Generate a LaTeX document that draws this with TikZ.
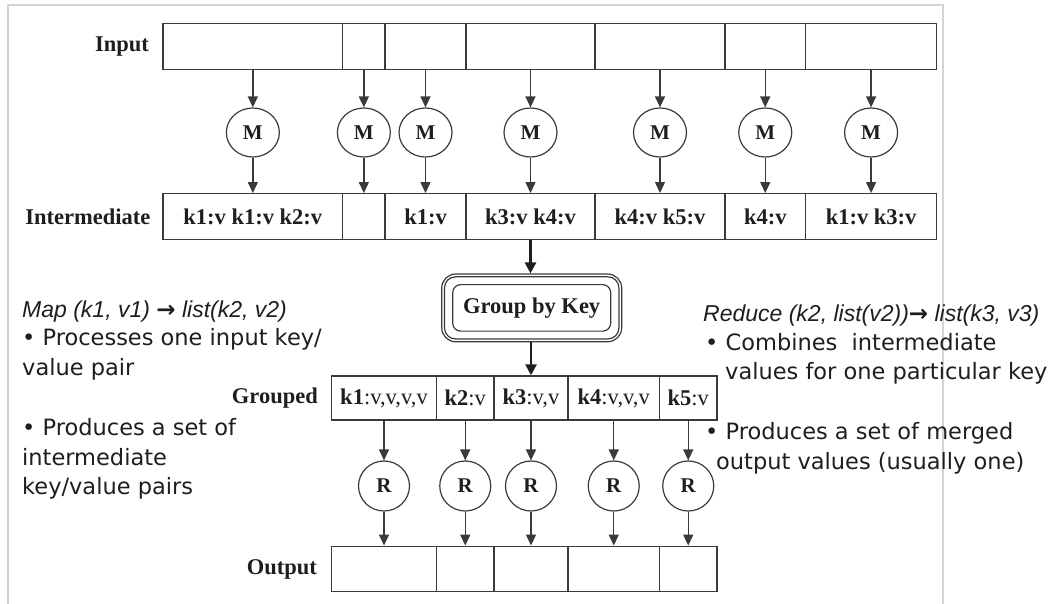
\documentclass[tikz,border=0pt]{standalone}
\usepackage{fontspec}
\setmainfont{Liberation Serif}
\newfontfamily\notefont{DejaVu Sans}
\newfontfamily\headfont{Liberation Sans}
\usetikzlibrary{arrows.meta,shapes.geometric}

\definecolor{framegray}{HTML}{D4D4D4}
\definecolor{boxline}{HTML}{3A3A3A}
\definecolor{ink}{HTML}{1E1E1E}

\newcommand{\cellfont}{\fontsize{22.5}{27}\selectfont\bfseries}
\newcommand{\keyfont}{\fontsize{22.5}{27}\selectfont}
\newcommand{\opfont}{\fontsize{21}{25}\selectfont\bfseries}
\newcommand{\notesize}{\notefont\fontsize{22.5}{27}\selectfont}
\newcommand{\headsize}{\headfont\fontsize{23}{27}\selectfont\itshape}
\newcommand{\maparrow}{{\notefont\bfseries\upshape →}}

\begin{document}
\begin{tikzpicture}[x=1pt,y=-1pt,
  cell/.style={draw=boxline, line width=1.4, minimum height=45.5, inner sep=0,
               font=\cellfont, text=ink},
  gcell/.style={draw=boxline, line width=1.4, minimum height=44, inner sep=0,
               font=\keyfont, text=ink},
  rowlabel/.style={anchor=east, inner sep=0, font=\cellfont, text=ink},
  worker/.style={ellipse, draw=boxline, line width=1.2, minimum width=53,
                 minimum height=49, inner sep=0, font=\opfont, text=ink},
  flow/.style={draw=boxline, line width=1.3,
               -{Triangle[width=10pt,length=11pt]}},
  bigflow/.style={draw=ink, line width=2.6,
               -{Triangle[width=11pt,length=11pt]}},
  note/.style={anchor=base west, inner sep=0, font=\notesize, text=ink},
  notehead/.style={anchor=base west, inner sep=0, font=\headsize, text=ink},
]
\useasboundingbox (0,0) rectangle (1053,604);

% light page frame
\draw[framegray, line width=2] (7.5,604) -- (7.5,5.5) -- (943,5.5) -- (943,604);

% ---- input splits ----
\node[cell, minimum width=179.7] (in1) at (252.85,46.5) {};
\node[cell, minimum width=42.3]  (in2) at (363.85,46.5) {};
\node[cell, minimum width=81]    (in3) at (425.5,46.5) {};
\node[cell, minimum width=129]   (in4) at (530.5,46.5) {};
\node[cell, minimum width=130]   (in5) at (660,46.5) {};
\node[cell, minimum width=80.5]  (in6) at (765.25,46.5) {};
\node[cell, minimum width=131.2] (in7) at (871.1,46.5) {};
\node[rowlabel] (linput) at (149,46.5) {Input};

% ---- map workers ----
\foreach \i/\x in {1/252.85,2/363.85,3/425.5,4/530.5,5/660,6/765.25,7/871.1}
  \node[worker] (m\i) at (\x,132.5) {M};

% ---- intermediate pairs ----
\node[cell, minimum width=179.7] (im1) at (252.85,216.5) {k1:v k1:v k2:v};
\node[cell, minimum width=42.3]  (im2) at (363.85,216.5) {};
\node[cell, minimum width=81]    (im3) at (425.5,216.5) {k1:v};
\node[cell, minimum width=129]   (im4) at (530.5,216.5) {k3:v k4:v};
\node[cell, minimum width=130]   (im5) at (660,216.5) {k4:v k5:v};
\node[cell, minimum width=80.5]  (im6) at (765.25,216.5) {k4:v};
\node[cell, minimum width=131.2] (im7) at (871.1,216.5) {k1:v k3:v};
\node[rowlabel] (linter) at (150.5,216.5) {Intermediate};

\foreach \i in {1,...,7}{
  \draw[flow] (in\i.south) -- (m\i.north);
  \draw[flow] (m\i.south) -- (im\i.north);
}

% ---- group by key (triple rounded border) ----
\node[draw=boxline, line width=1.2, rounded corners=14, minimum width=180,
      minimum height=67.7, inner sep=0, font=\cellfont, text=ink]
      (gbk) at (531.7,307.9) {Group by Key};
\draw[boxline, line width=1.2, rounded corners=11]
  ([shift={(3.4,3.4)}]gbk.north west) rectangle ([shift={(-3.4,-3.4)}]gbk.south east);
\draw[boxline, line width=1.2, rounded corners=8]
  ([shift={(11.6,11.2)}]gbk.north west) rectangle ([shift={(-11.6,-11.2)}]gbk.south east);

% ---- grouped values ----
\node[gcell, minimum width=105]  (g1) at (384,398) {\textbf{k1}:v,v,v,v};
\node[gcell, minimum width=57.5] (g2) at (465.25,398) {\textbf{k2}:v};
\node[gcell, minimum width=74]   (g3) at (531,398) {\textbf{k3}:v,v};
\node[gcell, minimum width=91.5] (g4) at (613.75,398) {\textbf{k4}:v,v,v};
\node[gcell, minimum width=57.5] (g5) at (688.25,398) {\textbf{k5}:v};
\node[rowlabel] (lgroup) at (318,398) {Grouped};

\draw[bigflow] (im4.south) -- (im4.south |- gbk.north);
\draw[bigflow] (g3.north |- gbk.south) -- (g3.north);

% ---- reduce workers ----
\foreach \i/\x in {1/384,2/465.25,3/531,4/613.75,5/688.25}
  \node[worker, minimum width=51, minimum height=50] (r\i) at (\x,486) {R};

% ---- output ----
\node[cell, minimum width=105]  (o1) at (384,569) {};
\node[cell, minimum width=57.5] (o2) at (465.25,569) {};
\node[cell, minimum width=74]   (o3) at (531,569) {};
\node[cell, minimum width=91.5] (o4) at (613.75,569) {};
\node[cell, minimum width=57.5] (o5) at (688.25,569) {};
\node[rowlabel] (lout) at (317,569) {Output};

\foreach \i in {1,...,5}{
  \draw[flow] (g\i.south) -- (r\i.north);
  \draw[flow] (r\i.south) -- (o\i.north);
}

% ---- map notes ----
\node[notehead] (ma) at (22,318) {Map (k1, v1) \maparrow\ list(k2, v2)};
\node[note] (mb) at (22,345) {• Processes one input key/};
\node[note] (mc) at (22,375) {value pair};
\node[note] (md) at (22,435) {• Produces a set of};
\node[note] (me) at (22,465) {intermediate};
\node[note] (mf) at (22,494) {key/value pairs};

% ---- reduce notes ----
\node[notehead] (ra) at (703,321) {Reduce (k2, list(v2))\maparrow\ list(k3, v3)};
\node[note] (rb) at (705,350) {• Combines\ \ intermediate};
\node[note] (rc) at (725,379) {values for one particular key};
\node[note] (rd) at (705,439) {• Produces a set of merged};
\node[note] (re) at (716,469) {output values (usually one)};
\end{tikzpicture}
\end{document}
